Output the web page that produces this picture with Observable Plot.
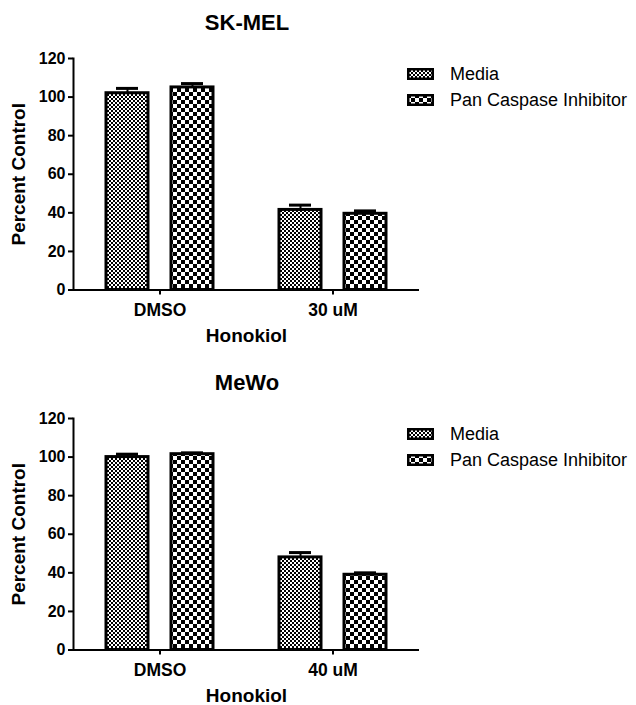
<!DOCTYPE html>
<html>
<head>
<meta charset="utf-8">
<script src="https://cdn.jsdelivr.net/npm/d3@7"></script>
<script src="https://cdn.jsdelivr.net/npm/@observablehq/plot@0.6"></script>
<style>
  html, body { margin: 0; padding: 0; background: #fff; }
  #root { position: relative; width: 636px; height: 705px; overflow: hidden; font-family: "Liberation Sans", Arial, sans-serif; color: #000; }
  .panel { position: absolute; left: 0; width: 636px; }
  .title { position: absolute; left: 0; width: 494px; text-align: center; font-weight: bold; font-size: 22px; line-height: 22px; }
  .legend { position: absolute; left: 407px; font-size: 18px; line-height: 26px; }
  .legend div { display: flex; align-items: center; height: 26px; }
  .legend svg { margin-right: 16px; }
  svg g[aria-label="y-axis tick label"] { font-size: 16px !important; }
  svg g[aria-label="fx-axis tick label"] { font-size: 17.5px !important; }
  svg g[aria-label="y-axis label"], svg g[aria-label="fx-axis label"] { font-size: 19px !important; }
</style>
</head>
<body>
<svg width="0" height="0" style="position:absolute">
  <defs>
    <pattern id="pMedia" patternUnits="userSpaceOnUse" width="4" height="4">
      <rect width="4" height="4" fill="#fff"/>
      <rect x="0" y="0" width="2" height="2" fill="#000"/>
      <rect x="2" y="2" width="2" height="2" fill="#000"/>
    </pattern>
    <pattern id="pPan" patternUnits="userSpaceOnUse" width="8" height="8">
      <rect width="8" height="8" fill="#fff"/>
      <rect x="0" y="0" width="4" height="4" fill="#000"/>
      <rect x="4" y="4" width="4" height="4" fill="#000"/>
    </pattern>
  </defs>
</svg>
<div id="root"></div>
<script>
// ---- data ----
const series = ["Media", "Pan Caspase Inhibitor"];
const yTicks = [0, 20, 40, 60, 80, 100, 120];

const skmelTitle = "SK-MEL";
const skmelDoses = ["DMSO", "30 uM"];
const skmelMedia = [102, 41.5];
const skmelMediaErr = [2.5, 2.5];
const skmelPan = [105, 39.5];
const skmelPanErr = [2, 1.5];

const mewoTitle = "MeWo";
const mewoDoses = ["DMSO", "40 uM"];
const mewoMedia = [100, 48];
const mewoMediaErr = [1.5, 2.5];
const mewoPan = [101.5, 39];
const mewoPanErr = [0.7, 1];

const patterns = {"Media": "url(#pMedia)", "Pan Caspase Inhibitor": "url(#pPan)"};

function buildRows(doses, media, mediaErr, pan, panErr) {
  const rows = [];
  doses.forEach((d, i) => {
    rows.push({dose: d, series: series[0], value: media[i], err: mediaErr[i]});
    rows.push({dose: d, series: series[1], value: pan[i], err: panErr[i]});
  });
  return rows;
}

function panel(top, title, doses, rows) {
  const div = document.createElement("div");
  div.className = "panel";
  div.style.top = top + "px";

  const t = document.createElement("div");
  t.className = "title";
  t.style.top = "-28px";
  t.textContent = title;
  div.appendChild(t);

  const chart = Plot.plot({
    width: 636,
    height: 305,
    marginLeft: 72,
    marginRight: 217,
    marginTop: 18,
    marginBottom: 55.5,
    style: {fontFamily: "'Liberation Sans', Arial, sans-serif", fontSize: "16px", fontWeight: "bold", color: "#000", background: "transparent", overflow: "visible"},
    fx: {domain: doses, padding: 0},
    x: {domain: series, paddingInner: 0.36, paddingOuter: 0.51, axis: null},
    y: {domain: [0, 120]},
    color: {type: "identity"},
    marks: [
      Plot.ruleX(rows, {fx: "dose", x: "series", y1: "value", y2: d => d.value + d.err, stroke: "#000", strokeWidth: 2}),
      Plot.tickY(rows, {fx: "dose", x: "series", y: d => d.value + d.err, stroke: "#000", strokeWidth: 3, insetLeft: 10, insetRight: 10}),
      Plot.barY(rows, {fx: "dose", x: "series", y: "value", fill: d => patterns[d.series], stroke: "#000", strokeWidth: 3}),
      Plot.ruleY([0], {stroke: "#000", strokeWidth: 2}),
      Plot.frame({anchor: "left", facetAnchor: "left", stroke: "#000", strokeWidth: 2}),
      Plot.axisY({ticks: yTicks, tickSize: 5, tickPadding: 3, strokeWidth: 2, fontSize: 16, tickFormat: d => String(d),
        label: "Percent Control", labelAnchor: "center", labelOffset: 62, labelArrow: "none"}),
      Plot.axisFx({anchor: "bottom", tickSize: 5, tickPadding: 9, strokeWidth: 2, fontSize: 17.5,
        label: "Honokiol", labelAnchor: "center", labelOffset: 52, labelArrow: "none"})
    ]
  });
  div.appendChild(chart);

  const leg = document.createElement("div");
  leg.className = "legend";
  leg.style.top = "21px";
  series.forEach(s => {
    const item = document.createElement("div");
    item.innerHTML = `<svg width="27" height="12"><rect x="1.25" y="1.25" width="24.5" height="9.5" fill="${patterns[s]}" stroke="#000" stroke-width="2.5"/></svg><span>${s}</span>`;
    leg.appendChild(item);
  });
  div.appendChild(leg);
  return div;
}

const root = document.getElementById("root");
root.appendChild(panel(40, skmelTitle, skmelDoses, buildRows(skmelDoses, skmelMedia, skmelMediaErr, skmelPan, skmelPanErr)));
root.appendChild(panel(400, mewoTitle, mewoDoses, buildRows(mewoDoses, mewoMedia, mewoMediaErr, mewoPan, mewoPanErr)));
</script>
</body>
</html>
